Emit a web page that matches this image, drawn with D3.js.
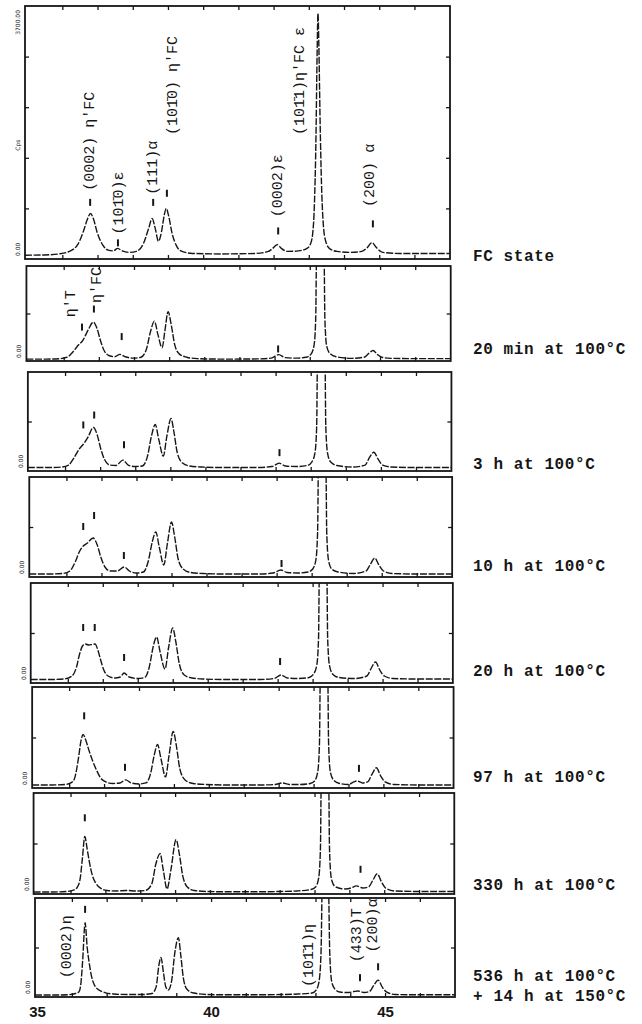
<!DOCTYPE html>
<html>
<head>
<meta charset="utf-8">
<script src="https://cdn.jsdelivr.net/npm/d3@7"></script>
<style>
  body { margin: 0; background: #fff; }
  svg { display: block; }
</style>
</head>
<body>
<svg id="chart" width="642" height="1024"></svg>
<script>
// x-ray scans: [2theta (deg), intensity in % of each panel's full scale]
const twoTheta = [34.94, 47.01];

const fcState = [[34.94,1.5],[35.5,1.6],[35.9,2.0],[36.2,3.0],[36.45,6],[36.6,11],[36.72,16],[36.8,18],[36.88,16],[37.0,10],[37.15,5.5],[37.3,3.5],[37.45,3.2],[37.57,4.2],[37.7,3.2],[37.9,2.6],[38.1,3.0],[38.3,6],[38.45,12],[38.55,16],[38.64,12],[38.73,7],[38.82,11],[38.89,17],[38.95,20],[39.02,17],[39.12,10],[39.25,5],[39.4,3],[39.7,2.2],[40.5,2],[41.5,2.2],[41.85,3],[42.0,4.5],[42.1,5.7],[42.22,4.2],[42.4,3],[42.7,3.2],[42.95,4.2],[43.05,6],[43.11,10],[43.16,22],[43.2,45],[43.235,80],[43.26,97],[43.285,85],[43.32,55],[43.36,30],[43.41,14],[43.48,7],[43.6,4],[43.8,3],[44.2,2.6],[44.5,3],[44.66,4.5],[44.79,6.5],[44.92,4.5],[45.1,2.6],[45.6,2.2],[46.5,2.2],[47.01,2.2]];

const min20 = [[34.94,2],[35.5,2],[35.9,2.5],[36.1,4],[36.25,9],[36.4,16],[36.55,22],[36.7,33],[36.84,41],[36.95,34],[37.05,21],[37.15,11],[37.3,5.5],[37.45,4.5],[37.6,7],[37.75,4.5],[38.0,3],[38.2,4],[38.35,12],[38.47,31],[38.58,42],[38.68,28],[38.8,14],[38.88,32],[38.97,52],[39.06,38],[39.16,17],[39.3,7],[39.5,4],[39.8,2.5],[40.5,2],[41.5,2.2],[41.9,3],[42.12,6.7],[42.3,3.5],[42.6,3],[42.9,4],[43.03,7],[43.12,16],[43.17,45],[43.19,110],[43.3,250],[43.41,110],[43.43,45],[43.48,16],[43.57,8],[43.75,4.5],[44.2,2.8],[44.55,4],[44.68,8],[44.8,11],[44.92,7],[45.05,4],[45.3,2.8],[46,2.5],[47.01,2.5]];

const h3 = [[34.94,3.5],[35.5,3.5],[35.9,4],[36.1,6],[36.25,13],[36.4,22],[36.52,27],[36.65,34],[36.81,44],[36.92,36],[37.02,22],[37.12,12],[37.27,6],[37.45,5.5],[37.65,11],[37.8,6],[38.0,4.5],[38.2,5],[38.35,15],[38.46,35],[38.57,47],[38.67,32],[38.8,15],[38.9,35],[39.02,53],[39.1,40],[39.2,18],[39.35,8],[39.55,5],[39.9,4],[40.5,3.5],[41.5,3.5],[41.9,4.5],[42.1,8],[42.28,5],[42.6,4.5],[42.9,5.5],[43.03,9],[43.12,18],[43.17,45],[43.19,110],[43.3,250],[43.41,110],[43.43,45],[43.48,18],[43.57,9],[43.75,5.5],[44.2,4],[44.55,6],[44.68,14],[44.8,19],[44.92,12],[45.05,6],[45.3,4],[46,3.5],[47.01,3.5]];

const h10 = [[34.94,3],[35.5,3],[35.9,3.5],[36.1,6],[36.25,15],[36.38,26],[36.48,31],[36.6,34],[36.76,39],[36.88,32],[36.98,20],[37.1,10],[37.25,6],[37.45,6],[37.65,10],[37.8,6],[38.0,4],[38.2,5],[38.33,15],[38.45,35],[38.55,45],[38.65,30],[38.78,12],[38.88,33],[39.0,55],[39.09,40],[39.19,18],[39.33,8],[39.55,4.5],[39.9,3.5],[40.5,3],[41.5,3],[41.9,4],[42.12,7],[42.3,4.5],[42.6,4],[42.9,5],[43.03,8],[43.12,17],[43.17,45],[43.19,110],[43.3,250],[43.41,110],[43.43,45],[43.48,17],[43.57,8],[43.75,5],[44.2,3.5],[44.55,6],[44.68,13],[44.8,19],[44.92,12],[45.05,6],[45.3,3.5],[46,3],[47.01,3]];

const h20 = [[34.94,3.5],[35.5,3.5],[35.9,4],[36.12,7],[36.25,16],[36.33,28],[36.42,37],[36.5,39],[36.6,38],[36.7,38.5],[36.78,39],[36.86,33],[36.94,23],[37.03,13],[37.15,7],[37.35,5],[37.5,6],[37.61,10],[37.75,6],[38.0,4.5],[38.2,5.5],[38.33,16],[38.44,36],[38.54,46],[38.64,31],[38.78,14],[38.88,35],[39.0,55],[39.09,41],[39.19,19],[39.33,8],[39.55,5],[39.9,4],[40.5,3.5],[41.5,3.5],[41.9,4.5],[42.1,8],[42.28,5],[42.6,4.5],[42.9,5.5],[43.03,9],[43.12,18],[43.17,45],[43.19,110],[43.3,250],[43.41,110],[43.43,45],[43.48,18],[43.57,9],[43.75,5.5],[44.2,4.5],[44.55,7],[44.68,15],[44.8,21],[44.92,13],[45.05,7],[45.3,4.5],[46,4],[47.01,4]];

const h97 = [[34.94,3],[35.5,3],[35.9,3.5],[36.05,5],[36.15,9],[36.26,28],[36.34,47],[36.4,53],[36.47,48],[36.56,38],[36.66,28],[36.78,18],[36.9,10],[37.05,6],[37.25,4.5],[37.45,5],[37.62,8],[37.78,5],[38.0,4],[38.2,5],[38.33,14],[38.44,33],[38.53,43],[38.63,29],[38.76,11],[38.86,32],[38.98,56],[39.07,42],[39.17,19],[39.32,8],[39.55,4.5],[39.9,3.5],[40.5,3],[41.5,3],[41.9,3.5],[42.1,5],[42.3,3.5],[42.6,3.5],[42.9,4.5],[43.03,7],[43.12,16],[43.17,45],[43.19,110],[43.3,250],[43.41,110],[43.43,45],[43.48,16],[43.57,8],[43.75,4.5],[44.0,3.5],[44.15,6],[44.25,7],[44.4,5],[44.55,6],[44.68,14],[44.8,20],[44.92,12],[45.05,6],[45.3,3.5],[46,3],[47.01,3]];

const h330 = [[34.94,2],[35.5,2],[35.9,2.5],[36.1,4],[36.2,7],[36.28,16],[36.34,35],[36.41,57],[36.48,44],[36.55,30],[36.63,18],[36.72,11],[36.85,6],[37.05,3.5],[37.3,3],[37.6,3.5],[37.9,3],[38.15,3.5],[38.33,10],[38.45,30],[38.57,40],[38.66,24],[38.77,5],[38.88,24],[39.03,54],[39.12,40],[39.22,18],[39.35,7],[39.55,3.5],[39.9,2.5],[40.5,2.2],[41.5,2.2],[42.0,2.5],[42.5,3],[42.9,4.5],[43.03,7],[43.12,16],[43.17,45],[43.19,110],[43.3,250],[43.41,110],[43.43,45],[43.48,16],[43.57,8],[43.75,5.5],[43.9,5],[44.05,6],[44.2,8],[44.38,6],[44.55,7],[44.68,14],[44.8,20],[44.92,12],[45.05,5.5],[45.3,3],[46,2.5],[47.01,2.5]];

const h536 = [[34.94,2],[35.5,2],[35.9,2.3],[36.1,3.5],[36.2,5],[36.26,14],[36.31,37],[36.38,75],[36.44,50],[36.5,34],[36.57,20],[36.65,12],[36.78,7],[36.95,4.5],[37.2,3],[37.6,2.5],[38.0,2.5],[38.3,3.5],[38.42,10],[38.5,32],[38.56,40],[38.63,25],[38.7,10],[38.77,7],[38.86,15],[38.96,45],[39.06,60],[39.13,42],[39.2,20],[39.3,8],[39.5,4],[39.9,2.5],[40.5,2.2],[41.5,2.2],[42.0,2.5],[42.5,3],[42.9,4],[43.02,7],[43.1,15],[43.16,45],[43.19,110],[43.28,250],[43.38,110],[43.41,45],[43.47,15],[43.56,8],[43.7,5],[43.95,4.5],[44.1,5.5],[44.22,6],[44.4,4.5],[44.55,5.5],[44.68,12],[44.8,17],[44.92,10],[45.05,5],[45.3,2.5],[46,2.2],[47.01,2.2]];

const scans = [fcState, min20, h3, h10, h20, h97, h330, h536];

const conditions = [
  ["FC state"],
  ["20 min at 100°C"],
  ["3 h at 100°C"],
  ["10 h at 100°C"],
  ["20 h at 100°C"],
  ["97 h at 100°C"],
  ["330 h at 100°C"],
  ["536 h at 100°C", "+ 14 h at 150°C"]
];

// peak markers: [2theta, % of panel height at the foot of the mark]
const markers = [
  [[36.79,21],[37.58,5],[38.58,21],[38.97,24.6],[42.13,9.7],[44.82,12.5]],
  [[36.52,32],[36.86,51],[37.65,22],[42.1,9]],
  [[36.52,43],[36.83,53],[37.68,23],[42.11,15]],
  [[36.48,47],[36.79,58],[37.64,18],[42.14,10]],
  [[36.44,52],[36.77,52],[37.61,22],[42.07,18]],
  [[36.43,68],[37.6,17],[44.3,16]],
  [[36.41,72],[44.32,21]],
  [[36.38,85],[44.28,16],[44.8,27]]
];

// reflection labels: [text, 2theta, % of panel height at the start of the text]
const reflections = [
  [["(0002) η'FC",36.81,27],["(101\u03040)ε",37.61,9.7],["(111)α",38.6,25.4],["(101\u03040) η'FC",39.17,49],
   ["(0002)ε",42.13,16.5],["(101\u03041)η'FC ε",42.75,49],["(200) α",44.74,20.6]],
  [["η'T",36.23,46],["η'FC",36.97,61]],
  [], [], [], [], [],
  [["(0002)η",35.86,19],["(101\u03041)η",42.84,10],["(433)T",44.22,35],["(200)α",44.68,45]]
];

const xTicks = d3.range(36, 47);
const xLabels = [35, 40, 45];

// ---- layout
const panelTop = [6, 266, 372, 477, 583, 687, 793, 898];
const panelBottom = [259, 361, 471, 577, 683, 788, 894, 997];
const conditionBaseline = [261, 354, 469, 571, 676, 782, 890, 981];

const svg = d3.select("#chart");
const ink = "#161616";

scans.forEach((scan, i) => {
  const left = 25 + i * 10 / 7, right = 450 + i * 5 / 7;
  const top = panelTop[i], bottom = panelBottom[i];
  const x = d3.scaleLinear().domain(twoTheta).range([left, right]);
  const y = d3.scaleLinear().domain([0, 100]).range([bottom, top]);
  const g = svg.append("g");

  g.append("clipPath").attr("id", "clip" + i)
    .append("rect").attr("x", left).attr("y", top)
    .attr("width", right - left).attr("height", bottom - top);

  // frame
  g.append("rect").attr("x", left).attr("y", top)
    .attr("width", right - left).attr("height", bottom - top)
    .attr("fill", "none").attr("stroke", ink).attr("stroke-width", 1.8);

  const yTicks = i === 0 ? [20, 40, 60, 80] : [50];
  const axes = [
    [d3.axisTop(x).tickValues(xTicks), `translate(0,${top})`],
    [d3.axisBottom(x).tickValues(xTicks), `translate(0,${bottom})`],
    [d3.axisLeft(y).tickValues(yTicks), `translate(${left},0)`],
    [d3.axisRight(y).tickValues(yTicks), `translate(${right},0)`]
  ];
  axes.forEach(([ax, tr]) => {
    const a = g.append("g").attr("transform", tr)
      .call(ax.tickSize(-4).tickFormat(""));
    a.select(".domain").remove();
    a.selectAll("line").attr("stroke", ink).attr("stroke-width", 1.3);
  });

  // scan curve
  const line = d3.line().x(d => x(d[0])).y(d => y(d[1])).curve(d3.curveMonotoneX);
  g.append("path").datum(scan)
    .attr("clip-path", `url(#clip${i})`)
    .attr("d", line)
    .attr("fill", "none").attr("stroke", ink)
    .attr("stroke-width", 1.4)
    .attr("stroke-dasharray", "7,1.6")
    .attr("stroke-linejoin", "round");

  // peak markers
  g.selectAll(".mark").data(markers[i]).enter().append("line")
    .attr("x1", d => x(d[0])).attr("x2", d => x(d[0]))
    .attr("y1", d => y(d[1])).attr("y2", d => y(d[1]) - 7)
    .attr("stroke", ink).attr("stroke-width", 2);

  // reflection labels
  g.selectAll(".refl").data(reflections[i]).enter().append("text")
    .attr("transform", d => `translate(${x(d[1])},${y(d[2])}) rotate(-90)`)
    .attr("dominant-baseline", "central")
    .attr("font-family", "'Liberation Mono', 'DejaVu Sans Mono', monospace")
    .attr("font-size", 15)
    .attr("fill", ink)
    .text(d => d[0]);

  // tiny intensity scale labels
  const tiny = i === 0 ? [["0.00", 0, "start"], ["Cps", 45, "middle"], ["3700.00", 100, "end"]]
                       : [["0.00", 0, "start"]];
  g.selectAll(".tiny").data(tiny).enter().append("text")
    .attr("transform", d => `translate(${left - 5},${y(d[1]) + (d[1] === 100 ? 4 : d[1] === 0 ? -3 : 0)}) rotate(-90)`)
    .attr("text-anchor", d => d[2])
    .attr("font-family", "DejaVu Sans, sans-serif")
    .attr("font-size", 6)
    .attr("fill", ink)
    .text(d => d[0]);

  // condition label
  const cond = g.append("text")
    .attr("x", 473).attr("y", conditionBaseline[i])
    .attr("font-family", "'Liberation Mono', monospace")
    .attr("font-weight", "bold")
    .attr("font-size", 16)
    .attr("letter-spacing", 0.6)
    .attr("fill", ink);
  conditions[i].forEach((t, k) => {
    cond.append("tspan").attr("x", 473).attr("dy", k === 0 ? 0 : 20).text(t);
  });

  // 2theta labels under the last panel
  if (i === scans.length - 1) {
    const ax = g.append("g").attr("transform", `translate(0,${bottom})`)
      .call(d3.axisBottom(x).tickValues(xLabels).tickSize(0).tickPadding(9).tickFormat(d3.format("d")));
    ax.select(".domain").remove();
    ax.selectAll("text")
      .attr("font-family", "'Liberation Sans', Arial, sans-serif")
      .attr("font-weight", "bold")
      .attr("font-size", 15)
      .attr("fill", ink);
  }
});
</script>
</body>
</html>
